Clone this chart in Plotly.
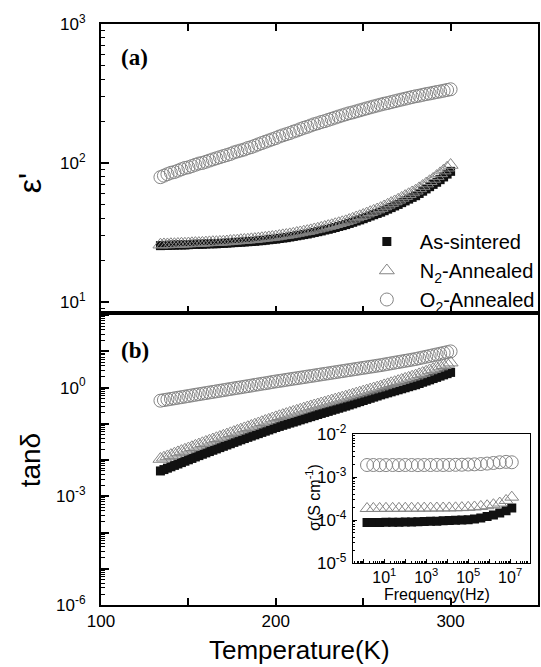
import plotly.graph_objects as go

# ---------------- data ----------------
temperature = [134,136,138,140,142,144,146,148,150,152,154,156,158,160,162,164,166,168,170,172,
               174,176,178,180,182,184,186,188,190,192,194,196,198,200,202,204,206,208,210,212,
               214,216,218,220,222,224,226,228,230,232,234,236,238,240,242,244,246,248,250,252,
               254,256,258,260,262,264,266,268,270,272,274,276,278,280,282,284,286,288,290,292,
               294,296,298,300]

eps_as = [25.4,25.5,25.5,25.6,25.6,25.7,25.7,25.7,25.8,25.9,26.0,26.0,26.0,26.1,
          26.2,26.2,26.2,26.3,26.4,26.5,26.6,26.7,26.8,26.9,27.0,27.1,27.2,27.3,27.5,27.6,27.8,28.0,28.2,28.3,
          28.6,28.8,29.0,29.3,29.6,29.9,30.2,30.5,30.8,31.2,31.6,32.0,32.4,32.9,33.3,33.8,34.3,34.9,35.4,36.0,
          36.7,37.4,38.2,38.9,39.7,40.6,41.5,42.4,43.3,44.2,45.3,46.5,47.7,49.0,50.3,51.8,53.3,54.9,56.5,58.1,
          60.3,62.6,65.0,67.5,70.1,72.6,75.8,79.3,83.1,87.0]
eps_n2 = [25.8,25.9,25.9,26.0,26.0,26.1,26.2,26.2,26.3,26.4,26.5,26.5,26.6,26.7,
          26.8,26.9,26.9,27.0,27.1,27.2,27.4,27.5,27.6,27.8,27.9,28.0,28.2,28.3,28.5,28.7,28.9,29.1,29.3,29.5,
          29.8,30.1,30.3,30.6,30.9,31.3,31.6,32.0,32.3,32.7,33.2,33.6,34.1,34.6,35.1,35.6,36.2,36.8,37.4,38.0,
          38.8,39.6,40.5,41.3,42.2,43.2,44.2,45.2,46.2,47.3,48.6,50.0,51.4,52.8,54.3,56.0,57.7,59.5,61.3,63.1,
          65.6,68.2,71.0,73.8,76.7,80.4,84.1,88.1,92.3,96.6]
eps_o2 = [79,81,83,85,86,88,90,92,93,95,97,99,100,102,104,106,108,110,112,114,116,
          119,121,123,125,128,130,133,136,139,142,145,148,151,
          155,158,161,164,168,171,175,179,182,186,190,193,197,200,204,208,212,216,220,224,
          228,231,235,239,243,247,251,255,259,263,267,270,274,278,282,286,290,294,298,302,
          305,309,313,316,320,324,327,331,335,339]

tan_as = [0.00501,0.00547,0.00598,0.00653,0.00714,0.00780,0.00853,0.00931,0.0102,0.0111,0.0122,0.0133,0.0145,0.0158,
          0.0172,0.0187,0.0203,0.0221,0.0240,0.0261,0.0283,0.0308,0.0334,0.0363,
          0.0393,0.0425,0.0459,0.0497,0.0537,0.0581,0.0628,0.0679,0.0735,0.0794,
          0.0851,0.0912,0.0977,0.105,0.112,0.120,0.129,0.138,0.148,0.158,
          0.169,0.181,0.194,0.207,0.221,0.237,0.253,0.270,0.289,0.309,
          0.332,0.356,0.383,0.411,0.442,0.474,0.509,0.547,0.587,0.631,
          0.673,0.718,0.766,0.817,0.871,0.929,0.991,1.06,1.13,1.20,
          1.30,1.41,1.52,1.64,1.78,1.92,2.08,2.25,2.43,2.63]
tan_n2 = [0.0107,0.0116,0.0126,0.0137,0.0150,0.0163,0.0177,0.0192,0.0208,0.0226,0.0247,0.0268,0.0291,0.0316,
          0.0342,0.0370,0.0400,0.0433,0.0468,0.0506,0.0547,0.0592,0.0640,0.0692,
          0.0748,0.0809,0.0875,0.0946,0.102,0.111,0.120,0.129,0.140,0.151,
          0.162,0.174,0.186,0.200,0.214,0.229,0.245,0.263,0.282,0.302,
          0.321,0.342,0.364,0.387,0.412,0.439,0.467,0.497,0.528,0.562,
          0.600,0.640,0.682,0.728,0.776,0.828,0.883,0.942,1.00,1.07,
          1.15,1.23,1.32,1.41,1.51,1.62,1.74,1.86,2.00,2.14,
          2.32,2.52,2.74,2.98,3.24,3.52,3.82,4.15,4.51,4.90]
tan_o2 = [0.436,0.453,0.470,0.488,0.507,0.526,0.546,0.566,0.587,0.610,0.634,0.658,0.682,0.708,
          0.735,0.762,0.791,0.820,0.851,0.883,0.916,0.951,0.986,1.02,
          1.06,1.10,1.14,1.19,1.23,1.28,1.32,1.37,1.43,1.48,
          1.53,1.58,1.64,1.70,1.76,1.82,1.88,1.95,2.02,2.09,
          2.16,2.24,2.32,2.40,2.48,2.57,2.66,2.75,2.85,2.95,
          3.05,3.16,3.27,3.39,3.51,3.63,3.76,3.89,4.03,4.17,
          4.34,4.51,4.69,4.88,5.07,5.27,5.48,5.70,5.93,6.17,
          6.47,6.79,7.13,7.48,7.85,8.24,8.65,9.08,9.53,10.0]

frequency = [1.5,3,6,12,25,50,100,200,400,800,1600,3200,6400,12500,25000,50000,
             1e5,2e5,4e5,8e5,1.6e6,3.2e6,6.4e6,1.2e7]
sigma_as = [8.8e-5,8.8e-5,8.8e-5,8.9e-5,8.9e-5,8.9e-5,9.0e-5,9.0e-5,9.1e-5,9.2e-5,9.3e-5,9.4e-5,
            9.6e-5,9.8e-5,9.9e-5,1.0e-4,1.02e-4,1.06e-4,1.12e-4,1.2e-4,1.3e-4,1.45e-4,1.65e-4,1.9e-4]
sigma_n2 = [1.85e-4,1.86e-4,1.86e-4,1.87e-4,1.87e-4,1.87e-4,1.88e-4,1.88e-4,1.88e-4,1.89e-4,1.89e-4,1.90e-4,
            1.90e-4,1.91e-4,1.92e-4,1.94e-4,1.97e-4,2.01e-4,2.07e-4,2.15e-4,2.27e-4,2.48e-4,2.85e-4,3.4e-4]
sigma_o2 = [0.00190,0.00190,0.00189,0.00189,0.00190,0.00189,0.00190,0.00190,0.00189,0.00190,0.00190,0.00191,
            0.00190,0.00191,0.00192,0.00193,0.00195,0.00197,0.00200,0.00205,0.00212,0.00220,0.00225,0.00220]

series_names = ["As-sintered", "N<sub>2</sub>-Annealed", "O<sub>2</sub>-Annealed"]
x_tick_labels = ["100", "200", "300"]

# ---------------- styling ----------------
FONT = "Liberation Sans, Arial, sans-serif"
GRAY = "#858585"
styles = [
    dict(symbol="square", size=9, color="#111111", line=dict(width=0)),
    dict(symbol="triangle-up-open", size=13, color=GRAY, line=dict(width=1, color=GRAY)),
    dict(symbol="circle-open", size=13, color=GRAY, line=dict(width=1, color=GRAY)),
]
inset_styles = [
    dict(symbol="square", size=9, color="#111111", line=dict(width=0)),
    dict(symbol="triangle-up-open", size=12, color=GRAY, line=dict(width=1, color=GRAY)),
    dict(symbol="circle-open", size=13, color=GRAY, line=dict(width=1, color=GRAY)),
]

fig = go.Figure()
for name, ys, st in zip(series_names, [eps_as, eps_n2, eps_o2], styles):
    fig.add_trace(go.Scatter(x=temperature, y=ys, mode="markers", name=name, marker=st,
                             xaxis="x", yaxis="y"))
for name, ys, st in zip(series_names, [tan_as, tan_n2, tan_o2], styles):
    fig.add_trace(go.Scatter(x=temperature, y=ys, mode="markers", name=name, marker=st,
                             xaxis="x2", yaxis="y2", showlegend=False))
for name, ys, st in zip(series_names, [sigma_as, sigma_n2, sigma_o2], inset_styles):
    fig.add_trace(go.Scatter(x=frequency, y=ys, mode="markers", name=name, marker=st,
                             xaxis="x3", yaxis="y3", showlegend=False))

def sup(e):
    return "10<sup>%d</sup>" % e

def minor_vals(e0, e1):
    return [m * 10.0 ** e for e in range(e0, e1) for m in range(2, 10)]

W, H = 541, 667
L, R, T, B = 101, 1, 24, 62
PW, PH = W - L - R, H - T - B
def px(x):
    return (x - L) / PW
def py(y):
    return (H - B - y) / PH

split = py(313)
tickfont = dict(family=FONT, size=17, color="black")

common_x = dict(range=[100, 350], showline=True, linewidth=2, linecolor="black",
                ticks="inside", ticklen=7, tickwidth=1.5, tickcolor="black",
                showgrid=False, zeroline=False)

fig.update_layout(
    width=W, height=H, margin=dict(l=L, r=R, t=T, b=B),
    plot_bgcolor="white", paper_bgcolor="white",
    font=dict(family=FONT, color="black"),
    showlegend=True,
    legend=dict(x=px(355), y=py(222), xanchor="left", yanchor="top",
                bgcolor="rgba(0,0,0,0)", borderwidth=0,
                font=dict(family=FONT, size=20, color="black"),
                itemwidth=56, tracegroupgap=0),
    xaxis=dict(domain=[0, 1], anchor="y", mirror="ticks", showticklabels=False,
               tickvals=[100, 150, 200, 250, 300, 350], **common_x),
    yaxis=dict(domain=[split, 1], anchor="x", type="log", range=[0.92, 3],
               tickvals=[10, 100, 1000], ticktext=[sup(1), sup(2), sup(3)],
               ticks="inside", ticklen=8, tickwidth=1.5, tickcolor="black",
               minor=dict(tickvals=minor_vals(0, 3), ticks="inside", ticklen=4,
                          tickwidth=1.2, tickcolor="black"),
               showline=True, linewidth=2, linecolor="black", mirror=True,
               showgrid=False, zeroline=False, tickfont=tickfont, ticklabelstandoff=10),
    xaxis2=dict(domain=[0, 1], anchor="y2", mirror=True,
                tickvals=[100, 200, 300], ticktext=x_tick_labels, tickfont=tickfont,
                ticklabelstandoff=0,
                minor=dict(tickvals=[150, 250], ticks="inside", ticklen=7, tickwidth=1.5,
                           tickcolor="black"),
                **common_x),
    yaxis2=dict(domain=[0, split], anchor="x2", type="log", range=[-6, 2.06],
                tickvals=[10.0 ** e for e in range(-6, 3)],
                ticktext=[sup(e) if e in (-6, -3, 0) else "" for e in range(-6, 3)],
                ticks="inside", ticklen=8, tickwidth=1.5, tickcolor="black",
                minor=dict(tickvals=minor_vals(-6, 2), ticks="inside", ticklen=4,
                           tickwidth=1.2, tickcolor="black"),
                showline=True, linewidth=2, linecolor="black", mirror=True,
                showgrid=False, zeroline=False, tickfont=tickfont, ticklabelstandoff=10),
    xaxis3=dict(domain=[px(354), px(532)], anchor="y3", type="log", range=[-0.5, 7.95],
                tickvals=[10.0 ** e for e in range(0, 8)],
                ticktext=[sup(e) if e % 2 == 1 else "" for e in range(0, 8)],
                ticks="inside", ticklen=4, tickwidth=1, tickcolor="black",
                minor=dict(tickvals=minor_vals(-1, 8), ticks="inside", ticklen=2,
                           tickwidth=0.8, tickcolor="black"),
                showline=True, linewidth=1, linecolor="black", mirror=True,
                showgrid=False, zeroline=False, tickfont=dict(family=FONT, size=16),
                ticklabelstandoff=0),
    yaxis3=dict(domain=[py(563), py(434)], anchor="x3", type="log", range=[-5, -2],
                tickvals=[1e-5, 1e-4, 1e-3, 1e-2], ticktext=[sup(-5), sup(-4), sup(-3), sup(-2)],
                ticks="inside", ticklen=4, tickwidth=1, tickcolor="black",
                minor=dict(tickvals=minor_vals(-5, -2), ticks="inside", ticklen=2,
                           tickwidth=0.8, tickcolor="black"),
                showline=True, linewidth=1, linecolor="black", mirror=True,
                showgrid=False, zeroline=False, tickfont=dict(family=FONT, size=17),
                ticklabelstandoff=2),
)

ann = [
    dict(text="<b>(a)</b>", x=px(135), y=py(57), font=dict(family="Liberation Serif, Times New Roman, serif", size=23)),
    dict(text="<b>(b)</b>", x=px(135), y=py(350), font=dict(family="Liberation Serif, Times New Roman, serif", size=23)),
    dict(text="ε'", x=px(30), y=py(183), textangle=-90, font=dict(family=FONT, size=32)),
    dict(text="tanδ", x=px(30), y=py(460), textangle=-90, font=dict(family=FONT, size=28)),
    dict(text="Temperature(K)", x=px(300), y=py(650), font=dict(family=FONT, size=26)),
    dict(text="σ(S cm<sup>-1</sup>)", x=px(314), y=py(498), textangle=-90, font=dict(family=FONT, size=16)),
    dict(text="Frequency(Hz)", x=px(439), y=py(594), font=dict(family=FONT, size=16)),
]
for a in ann:
    fig.add_annotation(xref="paper", yref="paper", showarrow=False,
                       xanchor="center", yanchor="middle", **a)

fig.write_html("out.html", config={"displayModeBar": False},
               post_script="document.body.style.margin='0px';document.body.style.overflow='hidden';")
